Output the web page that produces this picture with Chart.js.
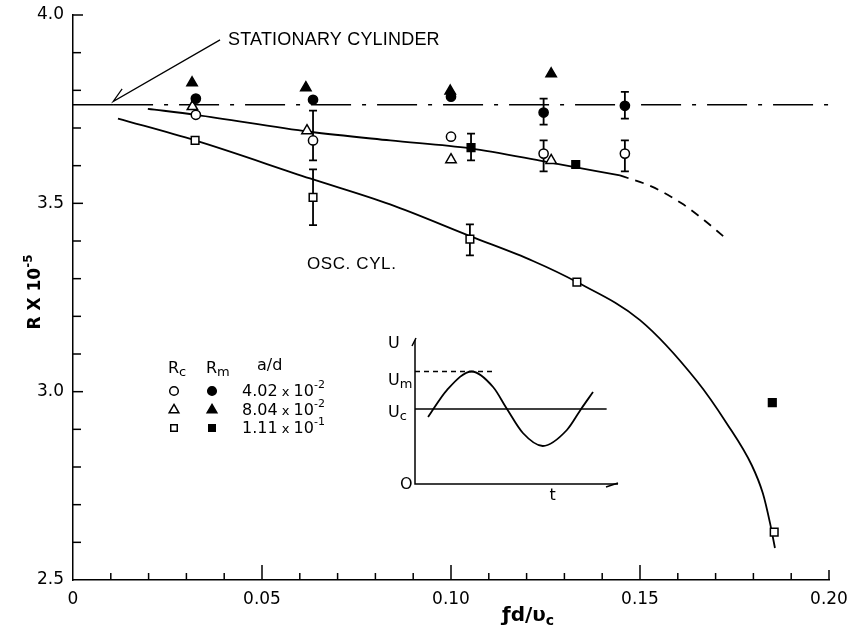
<!DOCTYPE html>
<html><head><meta charset="utf-8">
<script src="https://cdn.jsdelivr.net/npm/chart.js@4.4.1/dist/chart.umd.min.js"></script>
<style>
html,body{margin:0;padding:0;background:#fff;}
#wrap{position:relative;width:849px;height:628px;background:#fff;}
#main{position:absolute;left:0;top:0;}
#inset{position:absolute;left:380px;top:330px;}
</style></head><body>
<div id="wrap"><canvas id="main" width="849" height="628"></canvas><canvas id="inset" width="250" height="180"></canvas></div>
<script>
// ---------------- data ----------------
const xTickValues = [0, 0.05, 0.10, 0.15, 0.20];
const xTickLabels = ['0', '0.05', '0.10', '0.15', '0.20'];
const yTickValues = [2.5, 3.0, 3.5, 4.0];
const yTickLabels = ['2.5', '3.0', '3.5', '4.0'];

// Rc, a/d = 4.02e-2 (open circles)
const rc1X = [0.0325, 0.0635, 0.1000, 0.1245, 0.1460];
const rc1Y = [3.735, 3.667, 3.677, 3.632, 3.632];
const rc1Lo = [null, 3.614, null, 3.585, 3.585];
const rc1Hi = [null, 3.746, null, 3.667, 3.667];
// Rm, a/d = 4.02e-2 (filled circles)
const rm1X = [0.0325, 0.0635, 0.1000, 0.1245, 0.1460];
const rm1Y = [3.778, 3.775, 3.783, 3.741, 3.759];
const rm1Lo = [null, null, null, 3.709, 3.725];
const rm1Hi = [null, null, null, 3.778, 3.796];
// Rc, a/d = 8.04e-2 (open triangles)
const rc2X = [0.0316, 0.0619, 0.1000, 0.1265];
const rc2Y = [3.757, 3.693, 3.616, 3.614];
// Rm, a/d = 8.04e-2 (filled triangles)
const rm2X = [0.0315, 0.0616, 0.0998, 0.1265];
const rm2Y = [3.820, 3.807, 3.798, 3.844];
// Rc, a/d = 1.11e-1 (open squares)
const rc3X = [0.0323, 0.0635, 0.1050, 0.1333, 0.1855];
const rc3Y = [3.667, 3.516, 3.405, 3.291, 2.627];
const rc3Lo = [null, 3.442, 3.362, null, null];
const rc3Hi = [null, 3.590, 3.444, null, null];
// Rm, a/d = 1.11e-1 (filled squares)
const rm3X = [0.1053, 0.1330, 0.1850];
const rm3Y = [3.648, 3.603, 2.971];
const rm3Lo = [3.614, null, null];
const rm3Hi = [3.685, null, null];

// stationary cylinder level
const statSolidX = [0, 0.0106];
const statSolidY = [3.762, 3.762];
const statDashX = [0.0106, 0.2];
const statDashY = [3.762, 3.762];

// fitted curve through Rm/Rc (solid) and its dashed extension
const upperX = [0.0198, 0.0325, 0.0627, 0.0839, 0.1050, 0.1249, 0.1447];
const upperY = [3.751, 3.735, 3.690, 3.667, 3.646, 3.611, 3.574];
const upperDashX = [0.1447, 0.1530, 0.1610, 0.1670, 0.1720];
const upperDashY = [3.574, 3.545, 3.500, 3.455, 3.413];

// oscillating cylinder curve
const oscX = [0.0119, 0.0323, 0.0627, 0.0839, 0.1050, 0.1217, 0.1333, 0.1500, 0.1650, 0.1730, 0.1796, 0.1825, 0.1844, 0.1857];
const oscY = [3.725, 3.667, 3.566, 3.497, 3.413, 3.347, 3.291, 3.190, 3.029, 2.915, 2.804, 2.730, 2.651, 2.585];

// inset: U versus t (schematic)
const insetWaveT = [0.092, 0.225, 0.40, 0.55, 0.648, 0.76, 0.90, 1.07, 1.17, 1.254];
const insetWaveU = [0.893, 1.253, 1.50, 1.293, 1.0, 0.68, 0.507, 0.72, 1.0, 1.227];
const insetUcT = [0, 1.35];
const insetUcU = [1.0, 1.0];
const insetUmT = [0, 0.55];
const insetUmU = [1.5, 1.5];

// ---------------- helpers ----------------
const pts = (xs, ys) => xs.map((x, i) => ({x: x, y: ys[i]}));
const FONT = 'DejaVu Sans';
const INK = '#000';

function drawRich(ctx, x, y, parts, family) {
  let cx = x;
  for (const p of parts) {
    ctx.font = (p.w || 'normal') + ' ' + p.s + 'px ' + (family || FONT);
    ctx.fillText(p.t, cx, y + (p.dy || 0));
    cx += ctx.measureText(p.t).width + (p.gap || 0);
  }
  return cx - x;
}
function richWidth(ctx, parts, family) {
  let w = 0;
  for (const p of parts) {
    ctx.font = (p.w || 'normal') + ' ' + p.s + 'px ' + (family || FONT);
    w += ctx.measureText(p.t).width + (p.gap || 0);
  }
  return w;
}
function marker(ctx, style, r, x, y, filled) {
  ctx.save();
  ctx.lineWidth = 1.5;
  ctx.strokeStyle = INK;
  ctx.fillStyle = filled ? INK : '#fff';
  Chart.helpers.drawPoint(ctx, {pointStyle: style, radius: r, borderWidth: 1.5, rotation: 0}, x, y);
  ctx.restore();
}
function labelFor(values, labels, v) {
  const i = values.findIndex(t => Math.abs(t - v) < 1e-7);
  return i >= 0 ? labels[i] : '';
}

const errorSets = [
  {xs: rc1X, lo: rc1Lo, hi: rc1Hi},
  {xs: rm1X, lo: rm1Lo, hi: rm1Hi},
  {xs: rc3X, lo: rc3Lo, hi: rc3Hi},
  {xs: rm3X, lo: rm3Lo, hi: rm3Hi}
];

const mainPlugin = {
  id: 'mainDeco',
  beforeDatasetsDraw(chart) {
    const {ctx, scales: {x, y}} = chart;
    ctx.save();
    ctx.strokeStyle = INK;
    ctx.lineWidth = 1.8;
    for (const s of errorSets) {
      s.xs.forEach((xv, i) => {
        if (s.lo[i] == null) return;
        const px = x.getPixelForValue(xv);
        const p1 = y.getPixelForValue(s.lo[i]);
        const p2 = y.getPixelForValue(s.hi[i]);
        ctx.beginPath();
        ctx.moveTo(px, p1); ctx.lineTo(px, p2);
        ctx.moveTo(px - 4, p1); ctx.lineTo(px + 4, p1);
        ctx.moveTo(px - 4, p2); ctx.lineTo(px + 4, p2);
        ctx.stroke();
      });
    }
    ctx.restore();
  },
  afterDraw(chart) {
    const {ctx, chartArea: ca, scales: {x, y}} = chart;
    ctx.save();
    ctx.strokeStyle = INK;
    ctx.fillStyle = INK;
    ctx.lineWidth = 1.5;
    // inward tick marks
    x.ticks.forEach((t, i) => {
      if (Math.abs(t.value) < 1e-9) return;
      const major = labelFor(xTickValues, xTickLabels, t.value) !== '';
      const last = i === x.ticks.length - 1;
      const len = last ? 10 : (major ? 15 : 7);
      const px = x.getPixelForValue(t.value);
      ctx.beginPath(); ctx.moveTo(px, ca.bottom); ctx.lineTo(px, ca.bottom - len); ctx.stroke();
    });
    y.ticks.forEach(t => {
      if (Math.abs(t.value - 2.5) < 1e-9) return;
      const major = labelFor(yTickValues, yTickLabels, t.value) !== '';
      const len = major ? 10 : 8;
      const py = y.getPixelForValue(t.value);
      ctx.beginPath(); ctx.moveTo(ca.left, py); ctx.lineTo(ca.left + len, py); ctx.stroke();
    });

    // annotation arrow
    ctx.lineWidth = 1.2;
    const tipX = x.getPixelForValue(0.0106), tipY = y.getPixelForValue(3.770);
    ctx.beginPath();
    ctx.moveTo(x.getPixelForValue(0.0389), y.getPixelForValue(3.934));
    ctx.lineTo(tipX, tipY);
    ctx.lineTo(x.getPixelForValue(0.0130), y.getPixelForValue(3.804));
    ctx.stroke();

    // annotation texts
    ctx.textAlign = 'left';
    ctx.textBaseline = 'alphabetic';
    ctx.font = '18px "Liberation Sans"';
    try { ctx.letterSpacing = '0.2px'; } catch (e) {}
    ctx.fillText('STATIONARY CYLINDER', x.getPixelForValue(0.041), y.getPixelForValue(3.9206));
    ctx.font = '17px "Liberation Sans"';
    try { ctx.letterSpacing = '0.6px'; } catch (e) {}
    ctx.fillText('OSC. CYL.', x.getPixelForValue(0.0619), y.getPixelForValue(3.3254));
    try { ctx.letterSpacing = '0px'; } catch (e) {}

    // legend block
    drawRich(ctx, 168, 373, [{t: 'R', s: 16}, {t: 'c', s: 13, dy: 3}]);
    drawRich(ctx, 206, 373, [{t: 'R', s: 16}, {t: 'm', s: 13, dy: 3}]);
    drawRich(ctx, 257, 370, [{t: 'a/d', s: 16}]);
    const rows = [
      {y: 391, style: 'circle', r: 4.3, parts: [{t: '4.02', s: 16}, {t: ' x ', s: 13}, {t: '10', s: 16}, {t: '-2', s: 11, dy: -8}]},
      {y: 410, style: 'triangle', r: 5.6, parts: [{t: '8.04', s: 16}, {t: ' x ', s: 13}, {t: '10', s: 16}, {t: '-2', s: 11, dy: -8}]},
      {y: 428, style: 'rect', r: 4.6, parts: [{t: '1.11', s: 16}, {t: ' x ', s: 13}, {t: '10', s: 16}, {t: '-1', s: 11, dy: -8}]}
    ];
    rows.forEach(rw => {
      marker(ctx, rw.style, rw.r, 174, rw.y, false);
      marker(ctx, rw.style, rw.r, 212, rw.y, true);
      ctx.fillStyle = INK;
      drawRich(ctx, 242, rw.y + 5, rw.parts);
    });

    // x axis title
    ctx.fillStyle = INK;
    drawRich(ctx, 502, 621, [{t: 'ƒd/υ', s: 20, w: 'bold'}, {t: 'c', s: 14, w: 'bold', dy: 4}]);

    // y axis title (rotated)
    const yParts = [{t: 'R X 10', s: 17, w: 'bold'}, {t: '-5', s: 12, w: 'bold', dy: -8}];
    const yw = richWidth(ctx, yParts);
    ctx.save();
    ctx.translate(40, 292);
    ctx.rotate(-Math.PI / 2);
    drawRich(ctx, -yw / 2, 0, yParts);
    ctx.restore();

    ctx.restore();
  }
};

const open = {backgroundColor: '#fff', borderColor: INK, borderWidth: 1.5};
const fill = {backgroundColor: INK, borderColor: INK, borderWidth: 1.5};

new Chart(document.getElementById('main'), {
  type: 'scatter',
  data: {
    datasets: [
      Object.assign({label: 'Rc 4.02e-2', data: pts(rc1X, rc1Y), pointStyle: 'circle', pointRadius: 4.6}, open),
      Object.assign({label: 'Rm 4.02e-2', data: pts(rm1X, rm1Y), pointStyle: 'circle', pointRadius: 4.6}, fill),
      Object.assign({label: 'Rc 8.04e-2', data: pts(rc2X, rc2Y), pointStyle: 'triangle', pointRadius: 6}, open),
      Object.assign({label: 'Rm 8.04e-2', data: pts(rm2X, rm2Y), pointStyle: 'triangle', pointRadius: 6}, fill),
      Object.assign({label: 'Rc 1.11e-1', data: pts(rc3X, rc3Y), pointStyle: 'rect', pointRadius: 5.4}, open),
      Object.assign({label: 'Rm 1.11e-1', data: pts(rm3X, rm3Y), pointStyle: 'rect', pointRadius: 5.4}, fill),
      {label: 'stationary', data: pts(statSolidX, statSolidY), showLine: true, pointRadius: 0, borderColor: INK, borderWidth: 1.5},
      {label: 'stationary dash', data: pts(statDashX, statDashY), showLine: true, pointRadius: 0, borderColor: INK, borderWidth: 1.5, borderDash: [40, 11, 4, 11]},
      {label: 'fit', data: pts(upperX, upperY), showLine: true, pointRadius: 0, borderColor: INK, borderWidth: 1.8, cubicInterpolationMode: 'monotone'},
      {label: 'fit ext', data: pts(upperDashX, upperDashY), showLine: true, pointRadius: 0, borderColor: INK, borderWidth: 1.8, borderDash: [9, 7], cubicInterpolationMode: 'monotone'},
      {label: 'osc', data: pts(oscX, oscY), showLine: true, pointRadius: 0, borderColor: INK, borderWidth: 1.8, cubicInterpolationMode: 'monotone'}
    ]
  },
  options: {
    responsive: false,
    animation: false,
    devicePixelRatio: 1,
    layout: {padding: {top: 15, right: 20, left: 0, bottom: 0}},
    plugins: {legend: {display: false}, tooltip: {enabled: false}},
    scales: {
      x: {
        type: 'linear', min: 0, max: 0.2,
        afterFit: s => { s.height = 48; s.paddingLeft = 0; s.paddingRight = 0; },
        grid: {display: false, drawTicks: false, tickLength: 0},
        border: {display: true, color: INK, width: 1.5},
        ticks: {
          stepSize: 0.01, autoSkip: false, maxRotation: 0, minRotation: 0, maxTicksLimit: 100,
          padding: 9, color: INK, font: {family: FONT, size: 17},
          callback: v => labelFor(xTickValues, xTickLabels, v)
        }
      },
      y: {
        type: 'linear', min: 2.5, max: 4.0,
        afterFit: s => { s.width = 73; s.paddingTop = 0; s.paddingBottom = 0; },
        grid: {display: false, drawTicks: false, tickLength: 0},
        border: {display: true, color: INK, width: 1.5},
        ticks: {
          stepSize: 0.1, autoSkip: false, maxTicksLimit: 100,
          padding: 9, color: INK, font: {family: FONT, size: 17},
          callback: v => labelFor(yTickValues, yTickLabels, v)
        }
      }
    }
  },
  plugins: [mainPlugin]
});

// ---------------- inset ----------------
const insetPlugin = {
  id: 'insetDeco',
  afterDraw(chart) {
    const {ctx, scales: {x, y}} = chart;
    const x0 = x.getPixelForValue(0), y0 = y.getPixelForValue(0);
    const xe = x.getPixelForValue(1.43), ye = y.getPixelForValue(1.92);
    ctx.save();
    ctx.strokeStyle = INK; ctx.fillStyle = INK; ctx.lineWidth = 1.5;
    ctx.beginPath();
    ctx.moveTo(x0, ye); ctx.lineTo(x0, y0); ctx.lineTo(xe, y0);
    ctx.stroke();
    ctx.beginPath();
    ctx.moveTo(xe - 12, y0 + 3); ctx.lineTo(xe, y0 - 1);
    ctx.moveTo(x0 - 3, ye + 6); ctx.lineTo(x0 + 1, ye - 2);
    ctx.stroke();
    ctx.textBaseline = 'alphabetic'; ctx.textAlign = 'left';
    drawRich(ctx, x0 - 27, ye + 8, [{t: 'U', s: 16}]);
    drawRich(ctx, x0 - 27, y.getPixelForValue(1.5) + 13.5, [{t: 'U', s: 16}, {t: 'm', s: 13, dy: 3}]);
    drawRich(ctx, x0 - 27, y.getPixelForValue(1.0) + 8, [{t: 'U', s: 16}, {t: 'c', s: 13, dy: 3}]);
    drawRich(ctx, x0 - 15, y0 + 5, [{t: 'O', s: 16}]);
    ctx.textAlign = 'center';
    ctx.font = '16px ' + FONT;
    ctx.fillText('t', x.getPixelForValue(0.97), y0 + 16);
    ctx.restore();
  }
};

new Chart(document.getElementById('inset'), {
  type: 'scatter',
  data: {
    datasets: [
      {data: pts(insetWaveT, insetWaveU), showLine: true, pointRadius: 0, borderColor: INK, borderWidth: 1.8, cubicInterpolationMode: 'monotone'},
      {data: pts(insetUcT, insetUcU), showLine: true, pointRadius: 0, borderColor: INK, borderWidth: 1.5},
      {data: pts(insetUmT, insetUmU), showLine: true, pointRadius: 0, borderColor: INK, borderWidth: 1.3, borderDash: [5, 4]}
    ]
  },
  options: {
    responsive: false,
    animation: false,
    devicePixelRatio: 1,
    layout: {padding: {left: 35, right: 12, top: 10, bottom: 26}},
    plugins: {legend: {display: false}, tooltip: {enabled: false}},
    scales: {
      x: {type: 'linear', display: false, min: 0, max: 1.43},
      y: {type: 'linear', display: false, min: 0, max: 1.92}
    }
  },
  plugins: [insetPlugin]
});
</script>
</body></html>
